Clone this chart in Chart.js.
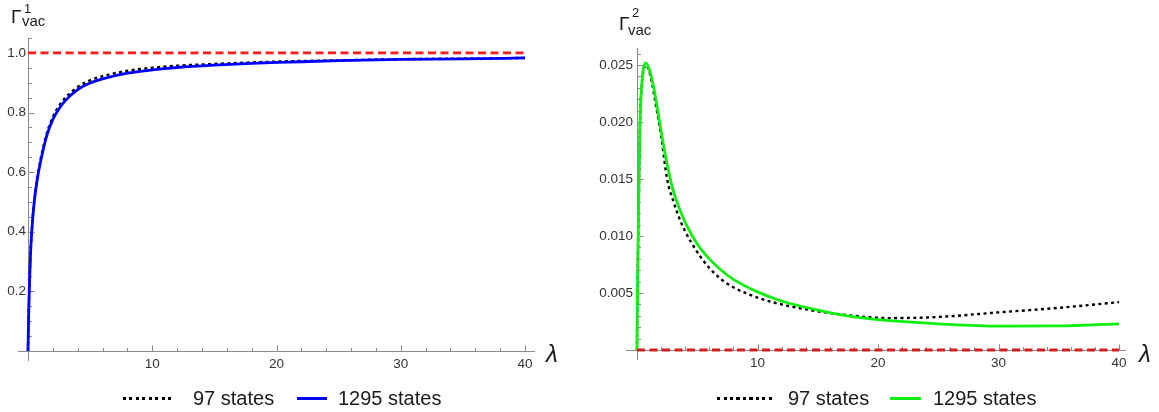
<!DOCTYPE html>
<html><head><meta charset="utf-8">
<script src="https://cdn.jsdelivr.net/npm/chart.js@4.4.1/dist/chart.umd.min.js"></script>
<style>
html,body{margin:0;padding:0;background:#fff;}
#wrap{position:relative;width:1159px;height:412px;overflow:hidden;font-family:"Liberation Sans",Arial,sans-serif;}
canvas{position:absolute;top:0;}
.t{position:absolute;line-height:1;color:#1a1a1a;white-space:nowrap;}
.lg{position:absolute;font-size:20px;line-height:1;top:388px;color:#1a1a1a;white-space:nowrap;}
.sw{position:absolute;top:397px;height:3px;}
.dot{background:repeating-linear-gradient(to right,#000 0 3px,transparent 3px 6.5px);}
</style></head><body>
<div id="wrap">
<canvas id="c1" width="580" height="412" style="left:0"></canvas>
<canvas id="c2" width="579" height="412" style="left:580px"></canvas>
<span class="t" style="left:11px;top:7px;font-size:19px">Γ</span>
<span class="t" style="left:24px;top:2px;font-size:13px">1</span>
<span class="t" style="left:22px;top:13px;font-size:15px">vac</span>
<span class="t" style="left:619px;top:14px;font-size:19px">Γ</span>
<span class="t" style="left:632px;top:6px;font-size:13px">2</span>
<span class="t" style="left:628px;top:22px;font-size:15px">vac</span>
<span class="t" style="left:546px;top:342px;font-size:24px;font-style:italic">λ</span>
<span class="t" style="left:1139px;top:342px;font-size:24px;font-style:italic">λ</span>
<div id="legend1"></div>
<div id="legend2"></div>
</div>
<script>
// ---------- data ----------
const lam1 = [0, 0.05, 0.1, 0.2, 0.3, 0.5, 0.75, 1, 1.5, 2, 2.5, 3, 4, 5, 6, 8, 10, 12, 15, 18, 21, 25, 30, 35, 40];
const g1_97   = [0, 0.116, 0.2, 0.323, 0.4, 0.5, 0.58, 0.64, 0.728, 0.785, 0.822, 0.849, 0.886, 0.908, 0.922, 0.940, 0.950, 0.957, 0.963, 0.968, 0.972, 0.975, 0.979, 0.981, 0.983];
const g1_1295 = [0, 0.116, 0.2, 0.323, 0.4, 0.5, 0.577, 0.633, 0.721, 0.777, 0.813, 0.840, 0.877, 0.899, 0.913, 0.932, 0.943, 0.951, 0.959, 0.965, 0.969, 0.974, 0.978, 0.980, 0.983];
const ref1Lam = [0, 40];
const ref1 = [1, 1];

const lam2 = [0, 0.02, 0.05, 0.1, 0.17, 0.25, 0.4, 0.55, 0.75, 1, 1.25, 1.5, 2, 2.5, 3, 3.5, 4, 5, 6, 7, 8, 10, 12, 15, 18, 21, 25, 30, 35, 40];
const g2_97   = [0, 0.003, 0.006, 0.010, 0.015, 0.020, 0.0233, 0.0246, 0.0250, 0.0245, 0.0234, 0.0219, 0.0188, 0.0150, 0.0131, 0.0116, 0.0104, 0.0086, 0.0072, 0.0062, 0.0055, 0.0046, 0.0040, 0.0034, 0.0030, 0.0028, 0.0029, 0.0033, 0.0037, 0.0042];
const g2_1295 = [0, 0.003, 0.006, 0.010, 0.015, 0.020, 0.0234, 0.0248, 0.0252, 0.0247, 0.0237, 0.0224, 0.0192, 0.0163, 0.0140, 0.01245, 0.0112, 0.0093, 0.0080, 0.0070, 0.0062, 0.0051, 0.0043, 0.0035, 0.0029, 0.00257, 0.0023, 0.0021, 0.00212, 0.0023];
const ref2Lam = [0, 40];
const ref2 = [0, 0];

const xTicks = [10, 20, 30, 40];
const y1Ticks = [0.2, 0.4, 0.6, 0.8, 1.0];
const y2Ticks = [0.005, 0.010, 0.015, 0.020, 0.025];
const seriesNames = ['97 states', '1295 states'];

// ---------- helpers ----------
const pts = (xs, ys) => xs.map((x, i) => ({x, y: ys[i]}));

const mmaAxes = {
  id: 'mmaAxes',
  beforeDatasetsDraw(chart, args, o) {
    const {ctx, chartArea: a, scales: {x, y}} = chart;
    const x0 = Math.round(x.getPixelForValue(0)) + 0.5;
    const y0 = Math.round(y.getPixelForValue(0)) + 0.5;
    ctx.save();
    ctx.strokeStyle = o.color;
    ctx.lineWidth = 1;
    ctx.beginPath();
    ctx.moveTo(a.left - o.extL, y0); ctx.lineTo(a.right + o.extR, y0);
    ctx.moveTo(x0, a.bottom + o.extB); ctx.lineTo(x0, a.top);
    for (let v = o.xMinor; v <= x.max + 1e-9; v += o.xMinor) {
      const major = Math.abs(v / o.xMajor - Math.round(v / o.xMajor)) < 1e-6;
      const px = Math.round(x.getPixelForValue(v)) + 0.5;
      ctx.moveTo(px, y0); ctx.lineTo(px, y0 - (major ? o.majLen : o.minLen));
    }
    for (let k = 1; k * o.yMinor <= y.max + 1e-12; k++) {
      const v = k * o.yMinor;
      const major = Math.abs(v / o.yMajor - Math.round(v / o.yMajor)) < 1e-6;
      const py = Math.round(y.getPixelForValue(v)) + 0.5;
      ctx.moveTo(x0, py); ctx.lineTo(x0 + (major ? o.majLen : o.minLen), py);
    }
    ctx.stroke();
    ctx.restore();
  }
};

function makeLegend(id, color, L) {
  const el = document.getElementById(id);
  el.innerHTML =
    `<div class="sw dot" style="left:${L[0]}px;width:${L[1]}px"></div>` +
    `<span class="lg" style="left:${L[2]}px">${seriesNames[0]}</span>` +
    `<div class="sw" style="left:${L[3]}px;width:${L[4]}px;background:${color}"></div>` +
    `<span class="lg" style="left:${L[5]}px">${seriesNames[1]}</span>`;
}

function makeChart(id, cfg) {
  const datasets = [
    {label: seriesNames[0], data: pts(cfg.lam, cfg.s97), borderColor: '#000', borderWidth: 2.4,
     borderDash: [3, 3.4], order: 2, cubicInterpolationMode: 'monotone', clip: false},
    {label: seriesNames[1], data: pts(cfg.lam, cfg.s1295), borderColor: cfg.color, borderWidth: 2.8,
     order: 1, cubicInterpolationMode: 'monotone', clip: false},
    {label: 'ref', data: pts(cfg.refLam, cfg.ref), borderColor: cfg.refColor, borderWidth: 2.8,
     borderDash: [8, 4.5], order: 0, clip: false}
  ];
  return new Chart(document.getElementById(id), {
    type: 'line',
    data: {datasets},
    plugins: [mmaAxes],
    options: {
      responsive: false, animation: false, devicePixelRatio: 1,
      elements: {point: {radius: 0}, line: {borderCapStyle: 'butt'}},
      layout: {padding: cfg.pad},
      plugins: {
        tooltip: {enabled: false},
        legend: {display: false},
        mmaAxes: {color: '#8a8a8a', extL: cfg.extL, extR: cfg.extR, extB: 10,
                  xMinor: 2, xMajor: 10, yMinor: cfg.yMinor, yMajor: cfg.yMajor, majLen: 6, minLen: 3.5}
      },
      scales: {
        x: {
          type: 'linear', min: 0, max: 40,
          afterBuildTicks: s => { s.ticks = xTicks.map(v => ({value: v})); },
          afterFit: s => { s.height = cfg.xh; },
          grid: {display: false, drawTicks: false}, border: {display: false},
          ticks: {color: '#333', padding: 5, maxRotation: 0,
                  font: {family: '"Liberation Sans", Arial, sans-serif', size: 13.5}}
        },
        y: {
          type: 'linear', min: 0, max: cfg.ymax,
          afterBuildTicks: s => { s.ticks = cfg.yTicks.map(v => ({value: v})); },
          afterFit: s => { s.width = cfg.yw; },
          grid: {display: false, drawTicks: false}, border: {display: false},
          ticks: {color: '#333', padding: cfg.ypad, callback: v => v.toFixed(cfg.dec),
                  font: {family: '"Liberation Sans", Arial, sans-serif', size: 13.5}}
        }
      }
    }
  });
}

makeChart('c1', {lam: lam1, s97: g1_97, s1295: g1_1295, refLam: ref1Lam, ref: ref1,
  color: '#0000ff', refColor: '#ff1a1a', ymax: 1.05, yTicks: y1Ticks, dec: 1,
  yMinor: 0.05, yMajor: 0.2, yw: 28, ypad: 2, extL: 10, extR: 10, xh: 61,
  pad: {top: 38, right: 55, bottom: 0, left: 0}});
makeChart('c2', {lam: lam2, s97: g2_97, s1295: g2_1295, refLam: ref2Lam, ref: ref2,
  color: '#10f010', refColor: '#d21e1e', ymax: 0.0265, yTicks: y2Ticks, dec: 3,
  yMinor: 0.001, yMajor: 0.005, yw: 57, ypad: 4, extL: 11, extR: 7, xh: 62,
  pad: {top: 48, right: 40, bottom: 0, left: 0}});

makeLegend('legend1', '#0000ff', [123, 52, 193, 297, 30, 338]);
makeLegend('legend2', '#10f010', [717, 56, 788, 890, 31, 933]);
</script>
</body></html>
